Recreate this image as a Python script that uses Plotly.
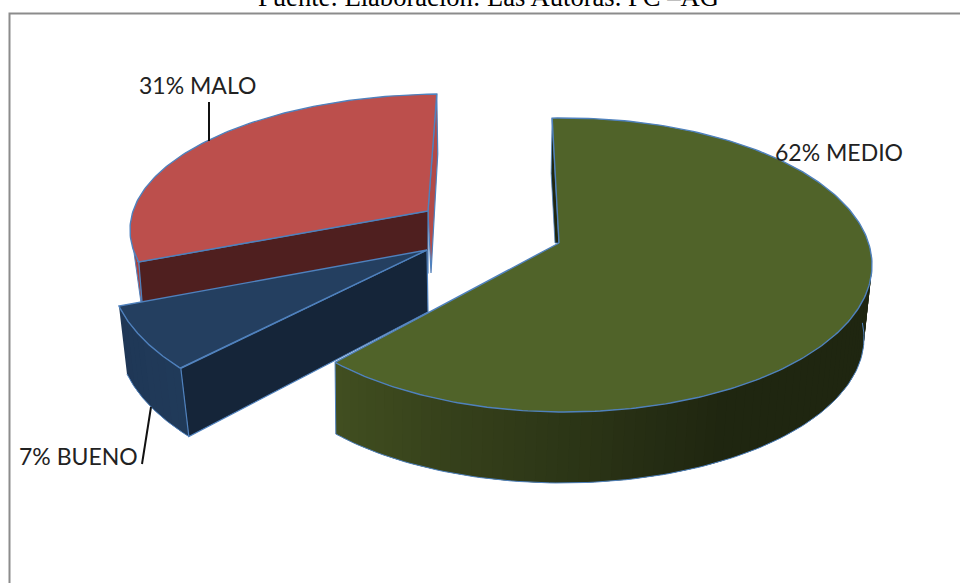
import numpy as np
import plotly.graph_objects as go

# --- data ---
labels = ["MEDIO", "BUENO", "MALO"]
shares = [62, 7, 31]

# --- drawing geometry (pixel-scaled axes) ---
W, H = 960, 583
geom = {
    "MEDIO": dict(apex=(559, 243), c=(565, 265), rx=307, ry=147, off0=-2.4, off1=5.3,
                  low_c=(562, 338), low_rx=302, low_ry=145),
    "BUENO": dict(apex=(427, 250), c=(460, 269), rx=350, ry=165, off0=9.7, off1=8.6,
                  low_c=(468, 337), low_rx=350, low_ry=165),
    "MALO": dict(apex=(428, 211), c=(445, 230), rx=315, ry=136, off0=8.0, off1=-1.5,
                 low_c=(447, 291), low_rx=312, low_ry=134),
}
top_col = {"MEDIO": "#506329", "BUENO": "#243f60", "MALO": "#bc4f4c"}
EDGE = "#4f81bd"

cum = np.concatenate([[0], np.cumsum(shares)]) / sum(shares) * 360
arcs = {l: (cum[i] + geom[l]["off0"], cum[i + 1] + geom[l]["off1"]) for i, l in enumerate(labels)}


def rim(l, t0, t1, n=120, low=False):
    g = geom[l]
    c = g["low_c"] if low else g["c"]
    rx = g["low_rx"] if low else g["rx"]
    ry = g["low_ry"] if low else g["ry"]
    t = np.radians(np.linspace(t0, t1, n))
    return c[0] + rx * np.sin(t), c[1] - ry * np.cos(t)


def poly(fig, x, y, fill, line=None, lw=1.0):
    x = np.append(x, x[0])
    y = np.append(y, y[0])
    fig.add_trace(go.Scatter(x=x, y=y, mode="lines", fill="toself", fillcolor=fill,
                             line=dict(color=line or fill, width=lw), hoverinfo="skip", showlegend=False))


def stroke(fig, x, y, color=EDGE, lw=1.4):
    fig.add_trace(go.Scatter(x=x, y=y, mode="lines", line=dict(color=color, width=lw),
                             hoverinfo="skip", showlegend=False))


def mix(a, b, f):
    a = np.array([int(a[i:i + 2], 16) for i in (1, 3, 5)])
    b = np.array([int(b[i:i + 2], 16) for i in (1, 3, 5)])
    v = (a + (b - a) * f).round().astype(int)
    return "#%02x%02x%02x" % tuple(v)


def side(fig, l, t0, t1, c0, c1, n=48, reach=1.0):
    """Shaded outer wall: bands overlap their neighbour so no seams appear."""
    edges = np.linspace(t0, t1, n + 1)
    step = edges[1] - edges[0]
    for i in range(n):
        end = edges[min(i + 2, n)] if i < n - 1 else edges[n]
        xa, ya = rim(l, edges[i], end, 6)
        xb, yb = rim(l, edges[i], end, 6, low=True)
        f = min((i / max(n - 1, 1)) / reach, 1.0)
        xs = np.r_[xa, xb[::-1], xa[0]]
        ys = np.r_[ya, yb[::-1], ya[0]]
        fig.add_trace(go.Scatter(x=xs, y=ys, mode="lines", fill="toself", fillcolor=mix(c0, c1, f),
                                 line=dict(width=0), hoverinfo="skip", showlegend=False))
    xb, yb = rim(l, t0, t1, 120, low=True)
    stroke(fig, xb, yb, lw=1.0)


fig = go.Figure()

# MALO: far slice
m = geom["MALO"]
t0, t1 = arcs["MALO"]
xt, yt = rim("MALO", t1, t1, 1)
xl, yl = rim("MALO", t0, t0, 1)
xlb, ylb = rim("MALO", t0, t0, 1, low=True)
poly(fig, [xt[0], xt[0] + 1, m["apex"][0] + 3, m["apex"][0]],
     [yt[0], yt[0] + 60, m["apex"][1] + 62, m["apex"][1]], "#b24a48", EDGE, 1.2)
poly(fig, [xl[0] - 1, xl[0] - 7, xlb[0], xl[0]], [yl[0], yl[0] - 25, ylb[0], yl[0]], "#a8423f", EDGE, 1.0)
poly(fig, [m["apex"][0], xl[0], xlb[0], m["apex"][0]],
     [m["apex"][1], yl[0], ylb[0], m["apex"][1] + 62], "#4f1f1f", EDGE, 1.2)
x, y = rim("MALO", t0, t1)
poly(fig, np.r_[m["apex"][0], x], np.r_[m["apex"][1], y], top_col["MALO"], EDGE, 1.4)

# BUENO: exploded slice
b = geom["BUENO"]
t0, t1 = arcs["BUENO"]
xf, yf = rim("BUENO", t0, t0, 1)
xfb, yfb = rim("BUENO", t0, t0, 1, low=True)
side(fig, "BUENO", t1, t0, "#1f3756", "#203a59", n=10)
poly(fig, [b["apex"][0], xf[0], xfb[0], b["apex"][0] + 1],
     [b["apex"][1], yf[0], yfb[0], b["apex"][1] + 62], "#152539", EDGE, 1.2)
x, y = rim("BUENO", t0, t1)
poly(fig, np.r_[b["apex"][0], x], np.r_[b["apex"][1], y], top_col["BUENO"], EDGE, 1.4)

# MEDIO: main slice
g = geom["MEDIO"]
t0, t1 = arcs["MEDIO"]
xs, ys = rim("MEDIO", t0, t0, 1)
poly(fig, [xs[0], xs[0] - 1, g["apex"][0] - 4, g["apex"][0]],
     [ys[0], ys[0] + 55, g["apex"][1], g["apex"][1]], "#1f2610", EDGE, 0.8)
side(fig, "MEDIO", t1, 84, "#414e20", "#1f2610", n=70, reach=0.55)
x, y = rim("MEDIO", t0, t1, 240)
poly(fig, np.r_[g["apex"][0], x], np.r_[g["apex"][1], y], top_col["MEDIO"], EDGE, 1.4)
xl, yl = rim("MEDIO", t1, t1, 1)
xlb, ylb = rim("MEDIO", t1, t1, 1, low=True)
stroke(fig, [xl[0], xlb[0]], [yl[0], ylb[0]], lw=1.0)

# leader lines
stroke(fig, [209, 209], [102, 141], color="#111111", lw=2)
stroke(fig, [151, 142], [407, 464], color="#111111", lw=2)

# chart frame
frame_x = [9.5, 9.5, 960]
frame_y = [583, 13.5, 13.5]
stroke(fig, frame_x, frame_y, color="#8c8c8c", lw=2)

txt = dict(xref="x", yref="y", showarrow=False, font=dict(family="Lato, Carlito, sans-serif", size=23, color="#222222"),
           xanchor="left", yanchor="middle")
pct = dict(zip(labels, shares))
pos = {"MALO": (137, 85), "MEDIO": (773, 152), "BUENO": (17, 456)}
annotations = [dict(x=pos[l][0], y=pos[l][1], text=f"{pct[l]}% {l}", **txt) for l in labels]
annotations.append(dict(x=488, y=14, xref="x", yref="y", showarrow=False, xanchor="center", yanchor="bottom",
                        text="Fuente: Elaboración: Las Autoras. PC –AG",
                        font=dict(family="Liberation Serif", size=26.6, color="#000000")))

fig.update_layout(
    width=W, height=H, margin=dict(l=0, r=0, t=0, b=0),
    paper_bgcolor="white", plot_bgcolor="white", showlegend=False,
    xaxis=dict(range=[0, W], visible=False, fixedrange=True),
    yaxis=dict(range=[H, 0], visible=False, fixedrange=True),
    annotations=annotations,
)
fig.write_html("out.html", post_script="document.body.style.margin='0';document.body.style.overflow='hidden';",
               config={"displayModeBar": False})
